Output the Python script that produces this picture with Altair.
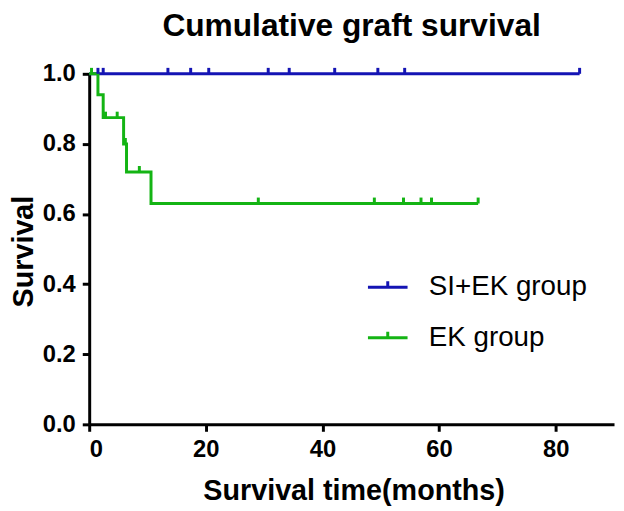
import altair as alt
import pandas as pd

# ---- data ----
groups = ["SI+EK group", "EK group"]
colors = ["#1414b4", "#14b414"]

# SI+EK group: no events
si_step_t = [0.0, 84.1]
si_step_s = [1.0, 1.0]
si_cens_t = [1.5, 2.4, 13.5, 17.4, 20.5, 30.7, 34.3, 42.1, 49.5, 54.1, 84.1]

# EK group
ek_step_t = [0.0, 1.5, 2.4, 5.9, 6.4, 10.6, 66.7]
ek_step_s = [1.0, 0.94, 0.875, 0.80, 0.72, 0.63, 0.63]
ek_cens_t = [0.4, 2.8, 4.8, 6.2, 8.6, 29.0, 48.9, 53.9, 56.9, 58.7, 66.7]

x_ticks = [0, 20, 40, 60, 80]
y_ticks = [0.0, 0.2, 0.4, 0.6, 0.8, 1.0]


def surv_at(t, ts, ss):
    val = ss[0]
    for ti, si in zip(ts, ss):
        if t >= ti:
            val = si
    return val


line_rows = []
for t, s in zip(si_step_t, si_step_s):
    line_rows.append({"group": groups[0], "t": t, "s": s})
for t, s in zip(ek_step_t, ek_step_s):
    line_rows.append({"group": groups[1], "t": t, "s": s})
lines = pd.DataFrame(line_rows)

cens_rows = []
for t in si_cens_t:
    cens_rows.append({"group": groups[0], "t": t, "s": surv_at(t, si_step_t, si_step_s)})
for t in ek_cens_t:
    cens_rows.append({"group": groups[1], "t": t, "s": surv_at(t, ek_step_t, ek_step_s)})
cens = pd.DataFrame(cens_rows)

FONT = "Liberation Sans"

xscale = alt.Scale(domain=[0, 90], nice=False, zero=False)
yscale = alt.Scale(domain=[0, 1], nice=False)

x_enc = alt.X(
    "t:Q",
    scale=xscale,
    axis=alt.Axis(
        values=x_ticks,
        title="Survival time(months)",
        titleX=267,
        titleY=76,
        titleBaseline="alphabetic",
        titleAlign="center",
        titleFontSize=29,
        labelPadding=6,
    ),
)
y_enc = alt.Y(
    "s:Q",
    scale=yscale,
    axis=alt.Axis(
        values=y_ticks,
        format=".1f",
        title="Survival",
        titleX=-57,
        titleY=179,
        titleAngle=-90,
        titleBaseline="alphabetic",
        titleAlign="center",
        titleFontSize=29,
        labelPadding=7,
    ),
)

color_scale = alt.Scale(domain=groups, range=colors)

line_layer = (
    alt.Chart(lines)
    .mark_line(interpolate="step-after", strokeWidth=3)
    .encode(
        x=x_enc,
        y=y_enc,
        color=alt.Color(
            "group:N",
            scale=color_scale,
            sort=groups,
            legend=alt.Legend(
                title=None,
                orient="none",
                legendX=280,
                legendY=194,
                padding=0,
                symbolType="M-1,0L1,0M0,0L0,-0.3",
                symbolSize=1600,
                symbolStrokeWidth=3,
                labelFont=FONT,
                labelFontSize=28,
                labelFontWeight="normal",
                labelColor="black",
                labelOffset=20,
                rowPadding=15,
            ),
        ),
        order=alt.Order("t:Q"),
    )
)

cens_layer = (
    alt.Chart(cens)
    .mark_point(shape="M0,0L0,-1", filled=False, strokeWidth=3, size=144, opacity=1)
    .encode(
        x=alt.X("t:Q", scale=xscale),
        y=alt.Y("s:Q", scale=yscale),
        stroke=alt.Stroke("group:N", scale=alt.Scale(domain=groups, range=colors), legend=None),
    )
)

chart = (
    alt.layer(line_layer, cens_layer)
    .properties(
        width=530,
        height=354,
        title=alt.TitleParams(
            "Cumulative graft survival",
            font=FONT,
            fontSize=32,
            fontWeight="bold",
            color="black",
            anchor="middle",
            offset=19,
        ),
        autosize=alt.AutoSizeParams(type="none"),
        padding={"left": 82, "top": 64, "right": 2, "bottom": 80},
    )
    .configure_view(stroke=None)
    .configure_axis(
        grid=False,
        domainColor="black",
        domainWidth=3,
        tickColor="black",
        tickWidth=3,
        tickSize=7,
        labelFont=FONT,
        labelFontSize=24,
        labelFontWeight="bold",
        labelColor="black",
        titleFont=FONT,
        titleFontSize=28,
        titleFontWeight="bold",
        titleColor="black",
    )
)

chart.save("out.html", embed_options={"renderer": "svg", "actions": False})
